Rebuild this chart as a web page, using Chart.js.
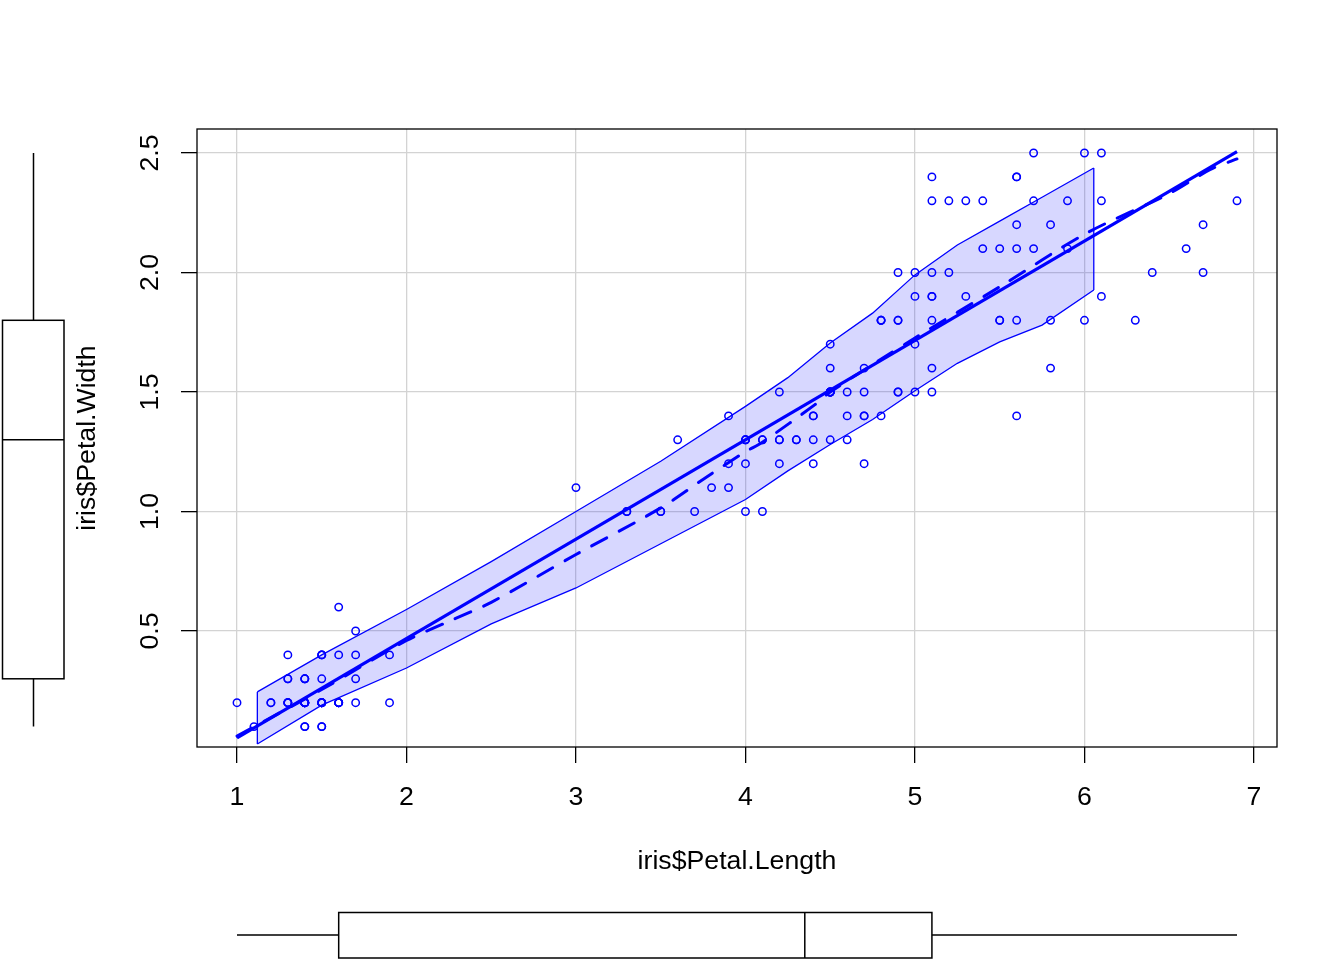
<!DOCTYPE html>
<html>
<head>
<meta charset="utf-8">
<script src="https://cdn.jsdelivr.net/npm/chart.js@4.4.1/dist/chart.umd.min.js"></script>
<style>
  html, body { margin: 0; padding: 0; background: #fff; }
  canvas { display: block; }
</style>
</head>
<body>
<canvas id="chart" width="1344" height="960"></canvas>
<script>
// iris petal measurements as plotted
const petalLength = [
  1.4,1.4,1.3,1.5,1.4,1.7,1.4,1.5,1.4,1.5,1.5,1.6,1.4,1.1,1.2,1.5,1.3,1.4,1.7,1.5,1.7,1.5,1.0,1.7,1.9,
  1.6,1.6,1.5,1.4,1.6,1.6,1.5,1.5,1.4,1.5,1.2,1.3,1.4,1.3,1.5,1.3,1.3,1.3,1.6,1.9,1.4,1.6,1.4,1.5,1.4,
  4.7,4.5,4.9,4.0,4.6,4.5,4.7,3.3,4.6,3.9,3.5,4.2,4.0,4.7,3.6,4.4,4.5,4.1,4.5,3.9,4.8,4.0,4.9,4.7,4.3,
  4.4,4.8,5.0,4.5,3.5,3.8,3.7,3.9,5.1,4.5,4.5,4.7,4.4,4.1,4.0,4.4,4.6,4.0,3.3,4.2,4.2,4.2,4.3,3.0,4.1,
  6.0,5.1,5.9,5.6,5.8,6.6,4.5,6.3,5.8,6.1,5.1,5.3,5.5,5.0,5.1,5.3,5.5,6.7,6.9,5.0,5.7,4.9,6.7,4.9,5.7,
  6.0,4.8,4.9,5.6,5.8,6.1,6.4,5.6,5.1,5.6,6.1,5.6,5.5,4.8,5.4,5.6,5.1,5.1,5.9,5.7,5.2,5.0,5.2,5.4,5.1
];
const petalWidth = [
  0.2,0.2,0.2,0.2,0.2,0.4,0.3,0.2,0.2,0.1,0.2,0.2,0.1,0.1,0.2,0.4,0.4,0.3,0.3,0.3,0.2,0.4,0.2,0.5,0.2,
  0.2,0.4,0.2,0.2,0.2,0.2,0.4,0.1,0.2,0.2,0.2,0.2,0.1,0.2,0.2,0.3,0.3,0.2,0.6,0.4,0.3,0.2,0.2,0.2,0.2,
  1.4,1.5,1.5,1.3,1.5,1.3,1.6,1.0,1.3,1.4,1.0,1.5,1.0,1.4,1.3,1.4,1.5,1.0,1.5,1.1,1.8,1.3,1.5,1.2,1.3,
  1.4,1.4,1.7,1.5,1.0,1.1,1.0,1.2,1.6,1.5,1.6,1.5,1.3,1.3,1.3,1.2,1.4,1.2,1.0,1.3,1.2,1.3,1.3,1.1,1.3,
  2.5,1.9,2.1,1.8,2.2,2.1,1.7,1.8,1.8,2.5,2.0,1.9,2.1,2.0,2.4,2.3,1.8,2.2,2.3,1.5,2.3,2.0,2.0,1.8,2.1,
  1.8,1.8,1.8,2.1,1.6,1.9,2.0,2.2,1.5,1.4,2.3,2.4,1.8,1.8,2.1,2.4,2.3,1.9,2.3,2.5,2.3,1.9,2.0,2.3,1.8
];

// least squares line (end points)
const fitX = [1.0, 6.9];
const fitY = [0.053, 2.506];

// smoother (dashed)
const smoothX = [1.0, 1.5, 2.0, 2.25, 2.5, 3.0, 3.5, 3.78, 4.0, 4.1, 4.41, 4.5, 5.0, 5.5, 6.0, 6.5, 6.74, 6.9];
const smoothY = [0.06, 0.255, 0.46, 0.54, 0.62, 0.82, 1.015, 1.149, 1.25, 1.29, 1.447, 1.5, 1.726, 1.94, 2.16, 2.33, 2.43, 2.475];

// shaded band
const bandX = [1.12, 1.5, 2.0, 2.5, 3.0, 3.5, 4.0, 4.25, 4.5, 4.75, 5.0, 5.25, 5.5, 5.75, 6.055];
const bandUpper = [0.245, 0.40, 0.59, 0.79, 1.0, 1.21, 1.44, 1.56, 1.705, 1.83, 1.99, 2.115, 2.215, 2.315, 2.437];
const bandLower = [0.027, 0.19, 0.345, 0.53, 0.68, 0.865, 1.05, 1.17, 1.28, 1.385, 1.505, 1.62, 1.71, 1.78, 1.927];

// marginal boxplots: min, Q1, median, Q3, max
const widthBox = [0.1, 0.3, 1.3, 1.8, 2.5];
const lengthBox = [1.0, 1.6, 4.35, 5.1, 6.9];

const xTicks = [1, 2, 3, 4, 5, 6, 7];
const yTicks = [0.5, 1.0, 1.5, 2.0, 2.5];
const yTickLabels = ["0.5", "1.0", "1.5", "2.0", "2.5"];

const BLUE = "#0000ff";
const FONT = "26.7px 'Liberation Sans', Arial, sans-serif";

const zip = (xs, ys) => xs.map((x, i) => ({ x: x, y: ys[i] }));

const edges = [
  { x: bandX[0], y: bandLower[0] },
  { x: bandX[0], y: bandUpper[0] },
  { x: null, y: null },
  { x: bandX[bandX.length - 1], y: bandUpper[bandUpper.length - 1] },
  { x: bandX[bandX.length - 1], y: bandLower[bandLower.length - 1] },
];

const decorations = {
  id: "decorations",
  afterDraw(chart) {
    const ctx = chart.ctx;
    const area = chart.chartArea;
    const xs = chart.scales.x;
    const ys = chart.scales.y;
    ctx.save();

    // plot frame
    ctx.strokeStyle = "#000";
    ctx.lineWidth = 1.3;
    ctx.strokeRect(area.left, area.top, area.right - area.left, area.bottom - area.top);

    // tick labels
    ctx.fillStyle = "#000";
    ctx.font = FONT;
    ctx.textAlign = "center";
    ctx.textBaseline = "middle";
    xTicks.forEach((v) => {
      ctx.fillText(String(v), xs.getPixelForValue(v), 798);
    });
    yTicks.forEach((v, i) => {
      ctx.save();
      ctx.translate(151, ys.getPixelForValue(v));
      ctx.rotate(-Math.PI / 2);
      ctx.fillText(yTickLabels[i], 0, 0);
      ctx.restore();
    });

    // axis titles
    ctx.fillText("iris$Petal.Length", (area.left + area.right) / 2, 862);
    ctx.save();
    ctx.translate(88, (area.top + area.bottom) / 2);
    ctx.rotate(-Math.PI / 2);
    ctx.fillText("iris$Petal.Width", 0, 0);
    ctx.restore();

    // left boxplot (Petal.Width)
    const [w0, w1, w2, w3, w4] = widthBox.map((v) => ys.getPixelForValue(v));
    ctx.lineWidth = 1.5;
    ctx.beginPath();
    ctx.moveTo(33.5, w4); ctx.lineTo(33.5, w3);
    ctx.moveTo(33.5, w1); ctx.lineTo(33.5, w0);
    ctx.moveTo(2.5, w2); ctx.lineTo(64, w2);
    ctx.stroke();
    ctx.strokeRect(2.5, w3, 61.5, w1 - w3);

    // bottom boxplot (Petal.Length)
    const [l0, l1, l2, l3, l4] = lengthBox.map((v) => xs.getPixelForValue(v));
    ctx.beginPath();
    ctx.moveTo(l0, 935); ctx.lineTo(l1, 935);
    ctx.moveTo(l3, 935); ctx.lineTo(l4, 935);
    ctx.moveTo(l2, 912.5); ctx.lineTo(l2, 958);
    ctx.stroke();
    ctx.strokeRect(l1, 912.5, l3 - l1, 45.5);

    ctx.restore();
  },
};

new Chart(document.getElementById("chart"), {
  type: "scatter",
  data: {
    datasets: [
      {
        label: "points",
        data: zip(petalLength, petalWidth),
        pointStyle: "circle",
        pointRadius: 3.7,
        pointBorderWidth: 1.5,
        borderColor: BLUE,
        backgroundColor: "rgba(0,0,0,0)",
      },
      {
        label: "fit",
        data: zip(fitX, fitY),
        showLine: true,
        borderColor: BLUE,
        borderWidth: 3.2,
        pointRadius: 0,
        fill: false,
      },
      {
        label: "smooth",
        data: zip(smoothX, smoothY),
        showLine: true,
        borderColor: BLUE,
        borderWidth: 3,
        borderDash: [17, 14],
        borderCapStyle: "round",
        pointRadius: 0,
        tension: 0.3,
        fill: false,
      },
      {
        label: "upper",
        data: zip(bandX, bandUpper),
        showLine: true,
        borderColor: BLUE,
        borderWidth: 1.3,
        backgroundColor: "rgba(0,0,255,0.155)",
        pointRadius: 0,
        fill: "+1",
      },
      {
        label: "lower",
        data: zip(bandX, bandLower),
        showLine: true,
        borderColor: BLUE,
        borderWidth: 1.3,
        pointRadius: 0,
        fill: false,
      },
      {
        label: "edges",
        data: edges,
        showLine: true,
        spanGaps: false,
        borderColor: BLUE,
        borderWidth: 1.3,
        pointRadius: 0,
        fill: false,
      },
    ],
  },
  options: {
    responsive: false,
    devicePixelRatio: 1,
    animation: false,
    layout: { padding: { top: 129, right: 67, left: 0, bottom: 0 } },
    plugins: {
      legend: { display: false },
      tooltip: { enabled: false },
    },
    scales: {
      x: {
        type: "linear",
        min: 0.764,
        max: 7.136,
        afterBuildTicks: (axis) => {
          axis.ticks = xTicks.map((v) => ({ value: v }));
        },
        afterFit: (axis) => {
          axis.height = 213;
        },
        ticks: { display: false },
        grid: {
          color: "#d3d3d3",
          lineWidth: 1.3,
          tickColor: "#000",
          tickLength: 16,
          tickWidth: 1.3,
        },
        border: { display: false },
      },
      y: {
        type: "linear",
        min: 0.0146,
        max: 2.6004,
        afterBuildTicks: (axis) => {
          axis.ticks = yTicks.map((v) => ({ value: v }));
        },
        afterFit: (axis) => {
          axis.width = 197;
        },
        ticks: { display: false },
        grid: {
          color: "#d3d3d3",
          lineWidth: 1.3,
          tickColor: "#000",
          tickLength: 16,
          tickWidth: 1.3,
        },
        border: { display: false },
      },
    },
  },
  plugins: [decorations],
});
</script>
</body>
</html>
